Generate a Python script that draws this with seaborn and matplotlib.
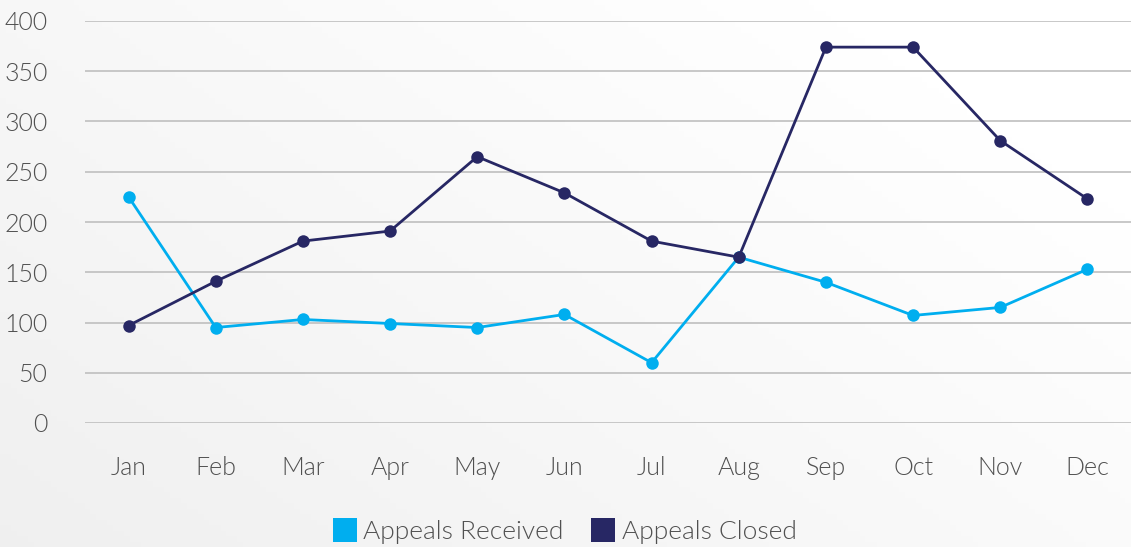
import numpy as np
import pandas as pd
import matplotlib
matplotlib.use("Agg")
import matplotlib.pyplot as plt
from matplotlib.lines import Line2D
import seaborn as sns

months = ["Jan", "Feb", "Mar", "Apr", "May", "Jun", "Jul", "Aug", "Sep", "Oct", "Nov", "Dec"]
received = [225, 95, 103, 99, 95, 108, 60, 165, 140, 107, 115, 153]
closed = [97, 141, 181, 191, 265, 229, 181, 165, 374, 374, 281, 223]
series_names = ["Appeals Received", "Appeals Closed"]
y_ticks = [0, 50, 100, 150, 200, 250, 300, 350, 400]

colors = {"Appeals Received": "#00AEEF", "Appeals Closed": "#272764"}
text_color = "#505050"

sns.set_theme(style="white")
plt.rcParams["font.family"] = ["Lato", "DejaVu Sans"]

df = pd.DataFrame({
    "month": months * 2,
    "x": list(range(len(months))) * 2,
    "value": received + closed,
    "series": [series_names[0]] * len(months) + [series_names[1]] * len(months),
})

fig = plt.figure(figsize=(11.31, 5.47), dpi=100)

# gradient background
bg = fig.add_axes([0, 0, 1, 1], zorder=-10)
h, w = 100, 200
yy, xx = np.mgrid[0:1:complex(0, h), 0:1:complex(0, w)]
grad = 0.94 + 0.06 * np.clip(xx * 0.7 + (1 - yy) * 0.5, 0, 1)
bg.imshow(np.dstack([grad] * 3), extent=[0, 1, 0, 1], aspect="auto", origin="upper")
bg.axis("off")

ax = fig.add_axes([85 / 1131, 1 - 423 / 547, 1 - 85 / 1131, (423 - 21) / 547])
ax.patch.set_alpha(0)

sns.lineplot(data=df, x="x", y="value", hue="series", palette=colors,
             marker="o", markersize=9, markeredgewidth=0, linewidth=2,
             ax=ax, legend=False)

ax.set_xlim(-0.5, len(months) - 0.5)
ax.set_ylim(0, 400)
ax.set_yticks(y_ticks)
ax.set_xticks(range(len(months)))
ax.set_xticklabels(months)
ax.yaxis.grid(True, color="#bfbfbf", linewidth=1.2)
ax.xaxis.grid(False)
for s in ax.spines.values():
    s.set_visible(False)
ax.tick_params(axis="y", length=0, pad=27, labelsize=18, labelcolor=text_color)
ax.tick_params(axis="x", length=0, pad=24, labelsize=18, labelcolor=text_color)
for lab in ax.get_xticklabels() + ax.get_yticklabels():
    lab.set_fontweight(300)
ax.set_xlabel("")
ax.set_ylabel("")
ax.set_axisbelow(True)

handles = [Line2D([], [], linestyle="none", marker="s", markersize=17,
                  markerfacecolor=colors[n], markeredgewidth=0) for n in series_names]
leg = fig.legend(handles, series_names, loc="center", bbox_to_anchor=(0.5, 1 - 532 / 547),
                 ncol=2, frameon=False, handlelength=0.8, handletextpad=0.3,
                 columnspacing=1.1, prop={"weight": 300, "size": 19})
for t_ in leg.get_texts():
    t_.set_color(text_color)

fig.savefig("out.png", dpi=100)
